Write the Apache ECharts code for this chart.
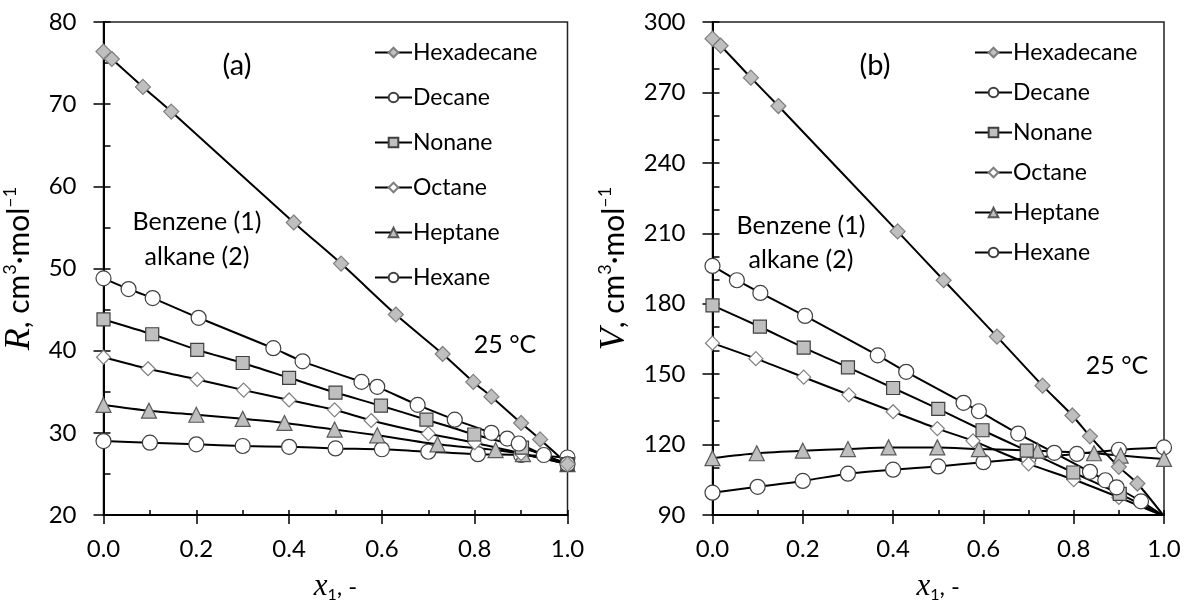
<!DOCTYPE html>
<html><head><meta charset="utf-8">
<script src="https://cdn.jsdelivr.net/npm/echarts@6/dist/echarts.min.js"></script>
<style>html,body{margin:0;padding:0;background:#fff}#c{width:1184px;height:608px}</style>
</head><body><div id="c"></div>
<script>
// ---- data (x1 = benzene mole fraction) ----
const seriesNames = ['Hexadecane','Decane','Nonane','Octane','Heptane','Hexane'];

const xHexadecane = [0, 0.018, 0.085, 0.146, 0.41, 0.512, 0.63, 0.731, 0.797, 0.836, 0.9, 0.941, 1.0];
const rHexadecane = [76.4, 75.5, 72.1, 69.1, 55.6, 50.6, 44.4, 39.6, 36.2, 34.4, 31.2, 29.2, 26.2];
const vHexadecane = [292.9, 289.9, 276.3, 264.2, 210.8, 190.0, 166.0, 145.1, 132.4, 123.5, 110.5, 103.4, 89.5];

const xDecane = [0, 0.054, 0.106, 0.205, 0.366, 0.429, 0.556, 0.59, 0.677, 0.757, 0.836, 0.87, 0.895, 0.949, 1.0];
const rDecane = [48.8, 47.5, 46.4, 44.0, 40.3, 38.7, 36.2, 35.6, 33.4, 31.6, 30.0, 29.3, 28.7, 27.3, 26.2];
const vDecane = [196.1, 190.0, 184.6, 174.8, 158.0, 151.0, 137.8, 134.2, 124.7, 116.5, 108.4, 104.8, 101.8, 95.8, 89.5];

const xNonane = [0, 0.105, 0.202, 0.30, 0.40, 0.50, 0.598, 0.696, 0.799, 0.902, 1.0];
const rNonane = [43.8, 42.0, 40.1, 38.5, 36.7, 34.9, 33.3, 31.6, 29.8, 28.2, 26.2];
const vNonane = [179.3, 170.2, 161.3, 152.9, 144.1, 135.2, 126.1, 117.4, 108.1, 99.0, 89.5];

const xOctane = [0, 0.096, 0.202, 0.302, 0.40, 0.498, 0.577, 0.70, 0.80, 0.90, 1.0];
const rOctane = [39.2, 37.8, 36.5, 35.2, 34.0, 32.8, 31.5, 29.9, 28.8, 27.5, 26.2];
const vOctane = [163.2, 156.6, 148.7, 141.2, 134.0, 126.8, 121.6, 111.8, 105.1, 97.5, 89.5];

const xHeptane = [0, 0.098, 0.20, 0.30, 0.39, 0.498, 0.59, 0.72, 0.845, 0.904, 1.0];
const rHeptane = [33.4, 32.7, 32.2, 31.7, 31.2, 30.4, 29.7, 28.6, 27.9, 27.4, 26.2];
const vHeptane = [114.2, 116.3, 117.4, 118.1, 118.8, 118.8, 118.1, 117.4, 116.3, 115.3, 113.9];

const xHexane = [0, 0.1, 0.2, 0.3, 0.4, 0.5, 0.6, 0.7, 0.807, 0.9, 1.0];
const rHexane = [29.0, 28.8, 28.6, 28.4, 28.3, 28.1, 28.0, 27.7, 27.4, 27.3, 27.0];
const vHexane = [99.5, 102.0, 104.5, 107.6, 109.3, 110.7, 112.5, 114.2, 116.0, 117.8, 118.8];

const xTicks = [0.0, 0.2, 0.4, 0.6, 0.8, 1.0];
const rTicks = [20, 30, 40, 50, 60, 70, 80];
const vTicks = [90, 120, 150, 180, 210, 240, 270, 300];

// ---- styling ----
const FONT = 'Lato';
const GRAY = '#bfbfbf';
const markerStyle = {
  Hexadecane: {symbol: 'diamond', size: 15, fill: GRAY, border: '#7f7f7f'},
  Decane:     {symbol: 'circle',  size: 15, fill: '#fff', border: '#404040'},
  Nonane:     {symbol: 'rect',    size: 13, fill: GRAY, border: '#404040'},
  Octane:     {symbol: 'diamond', size: 14, fill: '#fff', border: '#7f7f7f'},
  Heptane:    {symbol: 'triangle',size: 15, fill: GRAY, border: '#595959'},
  Hexane:     {symbol: 'circle',  size: 15, fill: '#fff', border: '#404040'}
};
const leftData = {
  Hexadecane: [xHexadecane, rHexadecane], Decane: [xDecane, rDecane], Nonane: [xNonane, rNonane],
  Octane: [xOctane, rOctane], Heptane: [xHeptane, rHeptane], Hexane: [xHexane, rHexane]
};
const rightData = {
  Hexadecane: [xHexadecane, vHexadecane], Decane: [xDecane, vDecane], Nonane: [xNonane, vNonane],
  Octane: [xOctane, vOctane], Heptane: [xHeptane, vHeptane], Hexane: [xHexane, vHexane]
};

function mkSeries(name, xs, ys, axisIdx) {
  const m = markerStyle[name];
  return {
    name, type: 'line', xAxisIndex: axisIdx, yAxisIndex: axisIdx,
    data: xs.map((x, i) => [x, ys[i]]),
    smooth: 0.25, symbol: m.symbol, symbolSize: m.size, showSymbol: true,
    lineStyle: {color: '#000', width: 2},
    itemStyle: {color: m.fill, borderColor: m.border, borderWidth: 1.2},
    emphasis: {disabled: true}, animation: false, z: 3
  };
}
const series = [];
['Hexane','Heptane','Octane','Nonane','Decane','Hexadecane'].forEach(n => series.push(mkSeries(n, leftData[n][0], leftData[n][1], 0)));
['Hexane','Heptane','Octane','Nonane','Decane','Hexadecane'].forEach(n => series.push(mkSeries(n, rightData[n][0], rightData[n][1], 1)));

const labelStyle = {color: '#000', fontFamily: FONT, fontSize: 24};
function xAxisMain(grid) {
  return {
    type: 'value', gridIndex: grid, position: 'bottom', min: xTicks[0], max: xTicks[xTicks.length - 1], interval: 0.2,
    axisLine: {show: true, onZero: false, lineStyle: {color: '#000', width: 2}},
    axisTick: {show: true, inside: false, length: 9, lineStyle: {color: '#000', width: 1.5}},
    axisLabel: Object.assign({margin: 22, formatter: v => v.toFixed(1)}, labelStyle),
    splitLine: {show: false},
    name: '{i|x}{s|1}{n|, -}', nameLocation: 'middle', nameGap: 56,
    nameTextStyle: {rich: {
      i: {fontFamily: 'Liberation Serif', fontStyle: 'italic', fontSize: 31, lineHeight: 32, color: '#000'},
      s: {fontFamily: FONT, fontSize: 16, lineHeight: 14, verticalAlign: 'bottom', color: '#000'},
      n: {fontFamily: FONT, fontSize: 24, lineHeight: 32, color: '#000'}
    }}
  };
}
function xAxisInner(grid) {
  return {
    type: 'value', gridIndex: grid, position: 'bottom', min: xTicks[0], max: xTicks[xTicks.length - 1], interval: 0.2,
    axisLine: {show: false, onZero: false}, axisLabel: {show: false}, splitLine: {show: false},
    axisTick: {show: true, inside: true, length: 5, lineStyle: {color: '#000', width: 1.5}},
    minorTick: {show: true, splitNumber: 2, length: 5, lineStyle: {color: '#000', width: 1.5}}
  };
}
function yAxisMain(grid, ticks, interval, letter, gap) {
  return {
    type: 'value', gridIndex: grid, position: 'left', min: ticks[0], max: ticks[ticks.length - 1], interval,
    axisLine: {show: true, onZero: false, lineStyle: {color: '#000', width: 2}},
    axisTick: {show: true, inside: false, length: 10, lineStyle: {color: '#000', width: 1.5}},
    axisLabel: Object.assign({margin: 27}, labelStyle),
    splitLine: {show: false},
    name: '{i|' + letter + '}{n|, cm}{s|3}{n|·mol}{s|–1}', nameLocation: 'middle', nameGap: gap, nameRotate: 90,
    nameTextStyle: {rich: {
      i: {fontFamily: 'Liberation Serif', fontStyle: 'italic', fontSize: 36, lineHeight: 36, color: '#000'},
      n: {fontFamily: FONT, fontSize: 30, lineHeight: 36, color: '#000'},
      s: {fontFamily: FONT, fontSize: 18, lineHeight: 18, verticalAlign: 'top', color: '#000'}
    }}
  };
}
function yAxisInner(grid, ticks, interval, split) {
  return {
    type: 'value', gridIndex: grid, position: 'left', min: ticks[0], max: ticks[ticks.length - 1], interval,
    axisLine: {show: false, onZero: false}, axisLabel: {show: false}, splitLine: {show: false},
    axisTick: {show: true, inside: true, length: 7, lineStyle: {color: '#000', width: 1.5}},
    minorTick: {show: true, splitNumber: split, length: 7, lineStyle: {color: '#000', width: 1.5}}
  };
}

function legend(left, top, gap) {
  return {
    orient: 'vertical', left, top, itemGap: gap, itemWidth: 37, itemHeight: 12,
    data: seriesNames, selectedMode: false,
    textStyle: {color: '#000', fontFamily: FONT, fontSize: 23, lineHeight: 26, padding: [0, 0, 0, -4]}
  };
}

function txt(x, y, s, size) {
  return {type: 'text', x, y, style: {text: s, fill: '#000', font: (size || 25) + 'px ' + FONT, align: 'center', verticalAlign: 'middle'}};
}

const option = {
  backgroundColor: '#fff',
  animation: false,
  grid: [
    {left: 103.5, right: 1184 - 567.5, top: 22, bottom: 608 - 522, show: true, borderColor: '#222', borderWidth: 1.5},
    {left: 712.5, right: 1184 - 1164, top: 22, bottom: 608 - 522, show: true, borderColor: '#222', borderWidth: 1.5}
  ],
  xAxis: [xAxisMain(0), xAxisMain(1), xAxisInner(0), xAxisInner(1)],
  yAxis: [yAxisMain(0, rTicks, 10, 'R', 66), yAxisMain(1, vTicks, 30, 'V', 80), yAxisInner(0, rTicks, 10, 2), yAxisInner(1, vTicks, 30, 3)],
  legend: [legend(369, 34.5, 19), legend(969, 34.5, 14)],
  series,
  graphic: [
    txt(237, 66, '(a)', 29), txt(875, 66, '(b)', 29),
    txt(197, 222, 'Benzene (1)', 25), txt(197, 257, 'alkane (2)', 25),
    txt(801, 226, 'Benzene (1)', 25), txt(801, 260, 'alkane (2)', 25),
    txt(505, 345, '25 °C', 25), txt(1117, 366, '25 °C', 25)
  ]
};
const chart = echarts.init(document.getElementById('c'), null, {renderer: 'canvas'});
chart.setOption(option);
</script></body></html>
